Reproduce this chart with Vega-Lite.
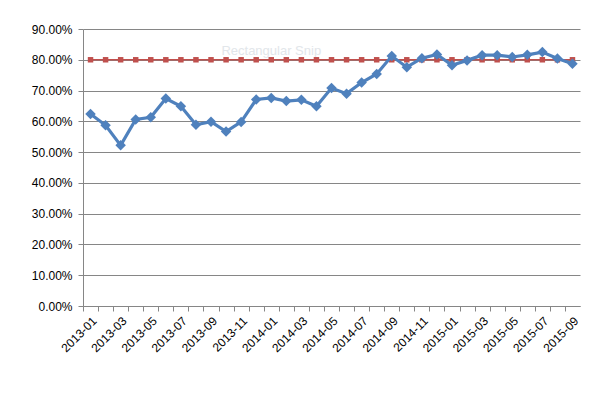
{
  "$schema": "https://vega.github.io/schema/vega-lite/v6.json",
  "width": 497,
  "height": 277,
  "autosize": {"type": "none"},
  "padding": {"left": 83, "top": 29, "right": 33, "bottom": 87},
  "background": "white",
  "config": {
    "view": {"stroke": null},
    "axis": {"labelFont": "Liberation Sans", "labelFontSize": 12, "labelColor": "#000000", "domainColor": "#868686", "tickColor": "#868686", "gridColor": "#868686", "gridOpacity": 1, "title": null}
  },
  "data": {
    "values": [
      {"month": "2013-01", "actual": 0.624, "target": 0.8},
      {"month": "2013-02", "actual": 0.587, "target": 0.8},
      {"month": "2013-03", "actual": 0.522, "target": 0.8},
      {"month": "2013-04", "actual": 0.606, "target": 0.8},
      {"month": "2013-05", "actual": 0.613, "target": 0.8},
      {"month": "2013-06", "actual": 0.674, "target": 0.8},
      {"month": "2013-07", "actual": 0.649, "target": 0.8},
      {"month": "2013-08", "actual": 0.589, "target": 0.8},
      {"month": "2013-09", "actual": 0.599, "target": 0.8},
      {"month": "2013-10", "actual": 0.567, "target": 0.8},
      {"month": "2013-11", "actual": 0.598, "target": 0.8},
      {"month": "2013-12", "actual": 0.671, "target": 0.8},
      {"month": "2014-01", "actual": 0.676, "target": 0.8},
      {"month": "2014-02", "actual": 0.666, "target": 0.8},
      {"month": "2014-03", "actual": 0.670, "target": 0.8},
      {"month": "2014-04", "actual": 0.649, "target": 0.8},
      {"month": "2014-05", "actual": 0.708, "target": 0.8},
      {"month": "2014-06", "actual": 0.690, "target": 0.8},
      {"month": "2014-07", "actual": 0.726, "target": 0.8},
      {"month": "2014-08", "actual": 0.754, "target": 0.8},
      {"month": "2014-09", "actual": 0.812, "target": 0.8},
      {"month": "2014-10", "actual": 0.776, "target": 0.8},
      {"month": "2014-11", "actual": 0.805, "target": 0.8},
      {"month": "2014-12", "actual": 0.817, "target": 0.8},
      {"month": "2015-01", "actual": 0.782, "target": 0.8},
      {"month": "2015-02", "actual": 0.798, "target": 0.8},
      {"month": "2015-03", "actual": 0.815, "target": 0.8},
      {"month": "2015-04", "actual": 0.815, "target": 0.8},
      {"month": "2015-05", "actual": 0.809, "target": 0.8},
      {"month": "2015-06", "actual": 0.816, "target": 0.8},
      {"month": "2015-07", "actual": 0.825, "target": 0.8},
      {"month": "2015-08", "actual": 0.804, "target": 0.8},
      {"month": "2015-09", "actual": 0.787, "target": 0.8}
    ]
  },
  "encoding": {
    "x": {
      "field": "month", "type": "ordinal",
      "scale": {"type": "point", "padding": 0.5},
      "axis": {
        "tickSize": 5, "tickOffset": -7.53, "labelOffset": 7.53, "labelAngle": -45, "labelPadding": 4,
        "labelExpr": "toNumber(slice(datum.value, 5)) % 2 == 1 ? datum.value : ''",
        "grid": false
      }
    },
    "y": {
      "field": "actual", "type": "quantitative",
      "scale": {"domain": [0, 0.9], "nice": false},
      "axis": {"format": ".2%", "values": [0, 0.1, 0.2, 0.3, 0.4, 0.5, 0.6, 0.7, 0.8, 0.9], "tickSize": 5, "labelPadding": 6, "grid": true}
    }
  },
  "layer": [
    {
      "transform": [{"filter": "datum.month == '2014-01'"}],
      "mark": {"type": "text", "color": "#E2E6EA", "fontSize": 13, "font": "Liberation Sans"},
      "encoding": {
        "y": {"datum": 0.8285, "type": "quantitative"},
        "text": {"value": "Rectangular Snip"}
      }
    },
    {
      "mark": {"type": "line", "color": "#C0504D", "strokeWidth": 1.5},
      "encoding": {"y": {"field": "target", "type": "quantitative"}}
    },
    {
      "mark": {"type": "point", "shape": "square", "filled": true, "color": "#C0504D", "size": 30, "opacity": 1},
      "encoding": {"y": {"field": "target", "type": "quantitative"}}
    },
    {
      "mark": {"type": "line", "color": "#4F81BD", "strokeWidth": 3.2}
    },
    {
      "mark": {"type": "point", "shape": "diamond", "filled": true, "color": "#4F81BD", "size": 110, "opacity": 1}
    }
  ]
}
